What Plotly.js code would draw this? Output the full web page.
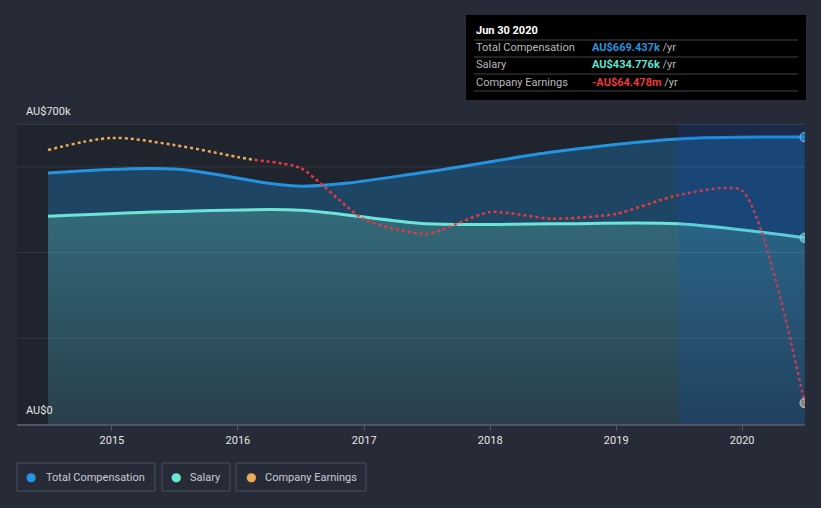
<!DOCTYPE html>
<html>
<head>
<meta charset="utf-8">
<script src="https://cdn.plot.ly/plotly-3.0.1.min.js"></script>
<style>
  html, body { margin: 0; padding: 0; background: #262b37; }
  #chart { width: 821px; height: 508px; }
</style>
</head>
<body>
<div id="chart"></div>
<script>
// ---- data ----
const compDates = ['2014-06-30','2015-06-30','2016-06-30','2017-06-30','2018-06-30','2019-06-30','2020-06-30'];
const totalComp = [585700, 595000, 555000, 588000, 634700, 665000, 669437];
const salary    = [485000, 496000, 499000, 467000, 467000, 467000, 434776];

const earnDates = ['2014-06-30','2014-12-31','2015-06-30','2015-12-31','2016-06-30','2016-12-31',
                   '2017-06-30','2017-12-31','2018-06-30','2018-12-31','2019-06-30','2019-12-31','2020-06-30'];
const earnings  = [2.65, 5.84, 3.98, 0.80, -2.12, -15.7, -19.6, -13.8, -15.6, -14.3, -9.3, -8.1, -64.478]; // AU$ millions

const yTicks = [0, 200000, 400000, 600000, 700000];
const xTickYears = ['2015','2016','2017','2018','2019','2020'];
const highlightStart = '2019-06-30';
const tooltipDate = 'Jun 30 2020';

// ---- colours ----
const C_TOTAL = '#2394df', C_SAL = '#6ce5d6', C_EARN_POS = '#e8ad55', C_EARN_NEG = '#e8393f';

// split earnings at zero crossing into positive (orange) and negative (red) parts
const t = earnDates.map(d => new Date(d + 'T00:00:00Z').getTime());
let ci = earnings.findIndex((v, i) => i > 0 && earnings[i-1] >= 0 && v < 0);
const frac = earnings[ci-1] / (earnings[ci-1] - earnings[ci]);
const crossDate = new Date(t[ci-1] + frac * (t[ci] - t[ci-1])).toISOString().slice(0,10);
const posX = earnDates.slice(0, ci).concat([crossDate]);
const posY = earnings.slice(0, ci).concat([0]);
const negX = [crossDate].concat(earnDates.slice(ci));
const negY = [0].concat(earnings.slice(ci));

const lastMarker = (arr, s) => arr.map((_, i) => i === arr.length - 1 ? s : 0);

const traces = [
  { x: compDates, y: totalComp, type: 'scatter', mode: 'lines+markers', fill: 'tozeroy',
    fillcolor: '#1f4565', line: { color: C_TOTAL, width: 3, shape: 'spline', smoothing: 0.9 },
    marker: { size: lastMarker(totalComp, 9), color: C_TOTAL, line: { color: '#a8d4f2', width: 1.5 } },
    hoverinfo: 'skip' },
  { x: compDates, y: salary, type: 'scatter', mode: 'lines+markers', fill: 'tozeroy',
    fillgradient: { type: 'vertical', colorscale: [[0, '#283f4a'], [1, '#336a7b']] },
    line: { color: C_SAL, width: 3, shape: 'spline', smoothing: 0.8 },
    marker: { size: lastMarker(salary, 9), color: C_SAL, line: { color: '#b8f3ec', width: 1.5 } },
    hoverinfo: 'skip' },
  { x: posX, y: posY, yaxis: 'y2', type: 'scatter', mode: 'lines',
    line: { color: C_EARN_POS, width: 2.5, dash: 'dot', shape: 'spline', smoothing: 0.9 }, hoverinfo: 'skip' },
  { x: negX, y: negY, yaxis: 'y2', type: 'scatter', mode: 'lines+markers',
    line: { color: C_EARN_NEG, width: 2.5, dash: 'dot', shape: 'spline', smoothing: 0.6 },
    marker: { size: lastMarker(negY, 9), color: '#e0aa68', line: { color: '#f0f0f0', width: 1.5 } },
    hoverinfo: 'skip' }
];

// paper helpers (plot area 17..805 x, 124..424 y)
const PX = px => (px - 17) / 788;
const PY = py => (424 - py) / 300;

const shapes = [];
// highlight last year
shapes.push({ type: 'rect', xref: 'x', yref: 'paper', x0: highlightStart, x1: compDates[compDates.length-1], y0: 0, y1: 1,
  fillcolor: 'rgba(0,80,220,0.15)', line: { width: 0 }, layer: 'above' });
// gridlines above fills
yTicks.forEach(v => {
  if (v === 0) return;
  shapes.push({ type: 'line', xref: 'paper', yref: 'y', x0: 0, x1: 1, y0: v, y1: v,
    line: { color: v === 700000 ? 'rgba(255,255,255,0.2)' : 'rgba(255,255,255,0.09)', width: 1 }, layer: 'above' });
});
// tooltip box
shapes.push({ type: 'rect', xref: 'paper', yref: 'paper', x0: PX(466), x1: PX(806), y0: PY(100), y1: PY(15),
  fillcolor: '#000000', line: { width: 0 } });
[40, 57, 74, 91].forEach(py => shapes.push({ type: 'line', xref: 'paper', yref: 'paper', x0: PX(474), x1: PX(798),
  y0: PY(py), y1: PY(py), line: { color: '#444444', width: 1 } }));
// legend boxes
[[17,155],[162,230],[236,366]].forEach(([a,b]) => shapes.push({ type: 'rect', xref: 'paper', yref: 'paper',
  x0: PX(a), x1: PX(b), y0: PY(491), y1: PY(463), line: { color: '#4a5162', width: 1 }, fillcolor: 'rgba(0,0,0,0)' }));

const fmtK = v => 'AU$' + (v / 1000).toFixed(3) + 'k';
const fmtM = v => (v < 0 ? '-' : '') + 'AU$' + Math.abs(v).toFixed(3) + 'm';
const F = 'Roboto, "Open Sans", sans-serif';

const ann = [];
ann.push({ xref: 'paper', yref: 'y', x: PX(24), y: yTicks[yTicks.length-1], xanchor: 'left', yanchor: 'bottom', yshift: 4,
  text: 'AU$700k', showarrow: false, font: { family: F, size: 11, color: '#e6e6e6' } });
ann.push({ xref: 'paper', yref: 'y', x: PX(24), y: yTicks[0], xanchor: 'left', yanchor: 'bottom', yshift: 5,
  text: 'AU$0', showarrow: false, font: { family: F, size: 11, color: '#e6e6e6' } });
// tooltip text
ann.push({ xref: 'paper', yref: 'paper', x: PX(474), y: PY(31), xanchor: 'left', yanchor: 'middle', showarrow: false,
  text: '<b>' + tooltipDate + '</b>', font: { family: F, size: 11, color: '#ffffff' } });
const rows = [
  ['Total Compensation', fmtK(totalComp[totalComp.length-1]), '#2394df', 48],
  ['Salary', fmtK(salary[salary.length-1]), '#5fe0d0', 65],
  ['Company Earnings', fmtM(earnings[earnings.length-1]), '#ec3b3b', 82]
];
rows.forEach(([lab, val, col, py]) => {
  ann.push({ xref: 'paper', yref: 'paper', x: PX(474), y: PY(py), xanchor: 'left', yanchor: 'middle', showarrow: false,
    text: lab, font: { family: F, size: 11, color: '#b8b8b8' } });
  ann.push({ xref: 'paper', yref: 'paper', x: PX(590), y: PY(py), xanchor: 'left', yanchor: 'middle', showarrow: false,
    text: '<b><span style="color:' + col + '">' + val + '</span></b> /yr', font: { family: F, size: 11, color: '#b8b8b8' } });
});
// legend
[['Total Compensation', C_TOTAL, 31, 44], ['Salary', C_SAL, 176, 188], ['Company Earnings', C_EARN_POS, 251, 263]]
  .forEach(([lab, col, dx, tx]) => {
    ann.push({ xref: 'paper', yref: 'paper', x: PX(dx), y: PY(477), xanchor: 'center', yanchor: 'middle', showarrow: false,
      text: '●', font: { family: 'DejaVu Sans', size: 12, color: col } });
    ann.push({ xref: 'paper', yref: 'paper', x: PX(tx), y: PY(477), xanchor: 'left', yanchor: 'middle', showarrow: false,
      text: lab, font: { family: F, size: 11, color: '#c8ccd4' } });
  });

const layout = {
  width: 821, height: 508,
  margin: { l: 17, r: 16, t: 124, b: 84 },
  paper_bgcolor: '#262b37', plot_bgcolor: '#20242e',
  showlegend: false,
  xaxis: { type: 'date', range: ['2014-04-01', '2020-07-01'],
    tickvals: xTickYears.map(y => y + '-01-01'), ticktext: xTickYears,
    ticks: 'outside', ticklen: 5, tickcolor: '#4f5563', showline: true, linecolor: '#4f5563', linewidth: 1.5,
    showgrid: false, zeroline: false, tickfont: { family: F, size: 11, color: '#e6e6e6' } },
  yaxis: { range: [0, 700000], showticklabels: false, showgrid: false, zeroline: false, fixedrange: true },
  yaxis2: { overlaying: 'y', range: [-70.03, 9.55], visible: false, showgrid: false, zeroline: false },
  shapes: shapes, annotations: ann
};

Plotly.newPlot('chart', traces, layout, { displayModeBar: false, staticPlot: true });
</script>
</body>
</html>
